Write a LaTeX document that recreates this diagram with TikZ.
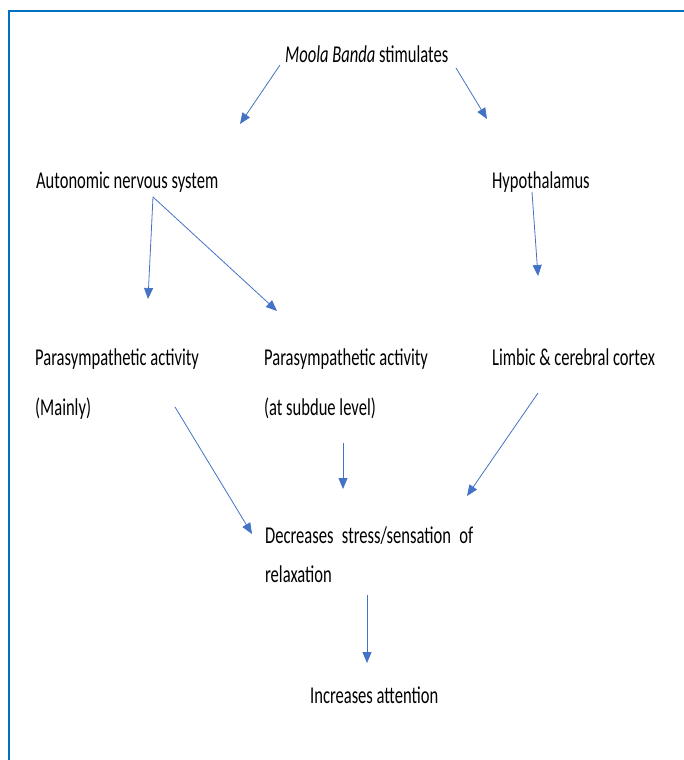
\documentclass[tikz,border=0pt]{standalone}
\usepackage{fontspec}
\setmainfont{Carlito}
\usetikzlibrary{arrows.meta}
\definecolor{frameblue}{RGB}{0,112,192}
\definecolor{arrowblue}{RGB}{68,114,196}
\tikzset{
    txt/.style={
        anchor=base west,
        inner sep=0pt,
        font=\fontsize{23}{28}\selectfont,
        xscale=0.72,
        yscale=1.05
    },
    link/.style={
        draw=arrowblue,
        line width=0.8pt,
        -{Triangle[length=11pt,width=9pt]}
    }
}
\newcommand{\linkfrom}[4] {
	\coordinate (#1) at (#3);
	\coordinate (#2) at (#4);
	\draw[link] (#1) -- (#2);
}

\begin{document}
\begin{tikzpicture}[x=1pt,y=-1pt]
		\useasboundingbox (0,0) rectangle (684,760);

		% frame
		\draw[frameblue, line width=2pt] (9,760) -- (9,11) -- (684,11);

		% top
		\node[txt] (moola) at (285,63) {\textit{Moola Banda} stimulates};

		% second row
		\node[txt] (ans) at (36,188) {Autonomic nervous system};
		\node[txt] (hypo) at (492,188) {Hypothalamus};

		% third row
		\node[txt] (paraA) at (35,365) {Parasympathetic activity};
		\node[txt] (paraAb) at (35,415) {(Mainly)};
		\node[txt] (paraB) at (264,365) {Parasympathetic activity};
		\node[txt] (paraBb) at (264,415) {(at subdue level)};
		\node[txt] (limbic) at (492,365) {Limbic \& cerebral cortex};

		% result
		\node[txt] (stress) at (265,543) {\makebox[289pt][s]{Decreases stress/sensation of}};
		\node[txt] (stressb) at (265,582) {relaxation};
		\node[txt] (attn) at (310,703) {Increases attention};

		% arrows
		\linkfrom{moola-l}{ans-in}{280,65}{240,124}
		\linkfrom{moola-r}{hypo-in}{456,68}{487,119}
		\linkfrom{ans-l}{paraA-in}{153,197}{148,299}
		\linkfrom{ans-r}{paraB-in}{153,197}{277,311}
		\linkfrom{hypo-o}{limbic-in}{532,192}{538,276}
		\linkfrom{paraA-o}{stress-l}{175,407}{252,534}
		\linkfrom{paraB-o}{stress-m}{343,443}{343,489}
		\linkfrom{limbic-o}{stress-r}{538,393}{467,496}
		\linkfrom{stress-o}{attn-in}{367,595}{367,663}

	\end{tikzpicture}
\end{document}
